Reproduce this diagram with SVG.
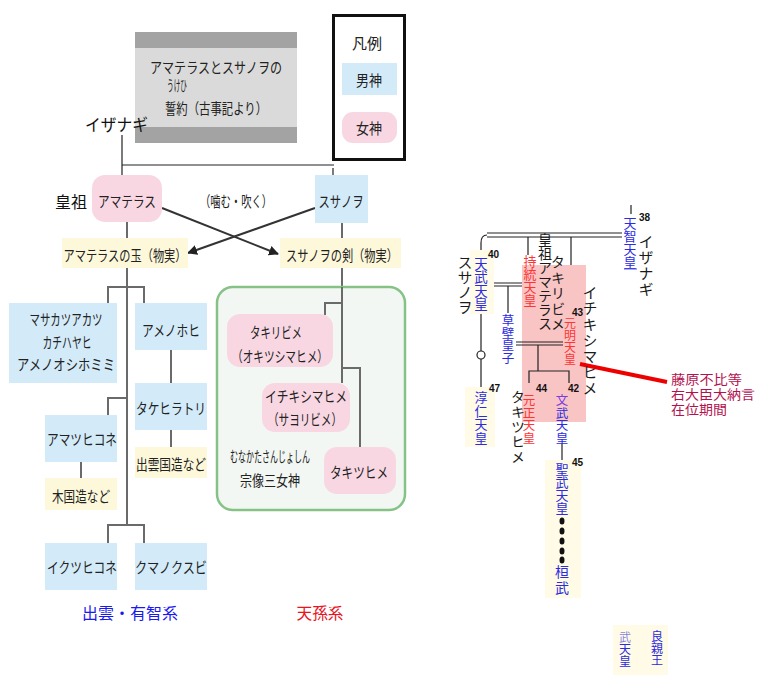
<svg xmlns="http://www.w3.org/2000/svg" width="757" height="675" viewBox="0 0 757 675">
<style>
text{font-family:"Noto Sans CJK JP","Noto Sans",sans-serif;}
.t{fill:#222;font-size:15px;text-anchor:middle;}
.ser{font-family:"Noto Sans CJK JP",serif;fill:#111;}
.blue{fill:#d3eaf8;}
.pink{fill:#f8d7e3;}
.cream{fill:#fdf8da;}
.ln{stroke:#6a6a6a;stroke-width:2;fill:none;}
.th{stroke:#222;stroke-width:1.2;fill:none;}
.arr{stroke:#333;stroke-width:2;fill:none;marker-end:url(#ah);}
.v{writing-mode:vertical-rl;text-orientation:upright;}
.k{fill:#1a1a1a;}
.b{fill:#2b2be0;}
.r{fill:#ff3535;}
.n{font-family:"Liberation Sans",Arial,sans-serif;font-weight:bold;font-size:10px;fill:#111;}
.bg{fill:#fffbe6;}
.fj{font-size:13px;fill:#b3124f;}
</style>
<defs>
<marker id="ah" viewBox="0 0 10 10" refX="9" refY="5" markerWidth="10" markerHeight="10" markerUnits="userSpaceOnUse" orient="auto">
<path d="M0,0 L10,5 L0,10 z" fill="#222"/>
</marker>
</defs>
<rect width="757" height="675" fill="#fff"/>

<g id="title">
<rect x="135" y="32" width="162" height="111" fill="#dadada"/>
<rect x="135" y="32" width="162" height="16" fill="#a3a3a3"/>
<rect x="135" y="127" width="162" height="16" fill="#a3a3a3"/>
<text class="t" x="216" y="73" font-size="15" textLength="132" lengthAdjust="spacingAndGlyphs">アマテラスとスサノヲの</text>
<text class="t" x="177" y="91" font-size="6.5" textLength="20" lengthAdjust="spacingAndGlyphs">うけひ</text>
<text class="t" x="216" y="114" font-size="16" textLength="102" lengthAdjust="spacingAndGlyphs">誓約（古事記より）</text>
</g>

<g id="legend">
<rect x="333.5" y="15.5" width="71" height="144" fill="#fff" stroke="#111" stroke-width="3"/>
<text class="t" x="367" y="49" font-size="13">凡例</text>
<rect class="blue" x="342" y="63" width="55" height="32"/>
<text class="t" x="369" y="86" font-size="15" textLength="26" lengthAdjust="spacingAndGlyphs">男神</text>
<rect class="pink" x="342" y="112" width="55" height="31" rx="11"/>
<text class="t" x="369" y="134" font-size="15" textLength="26" lengthAdjust="spacingAndGlyphs">女神</text>
</g>

<g id="connectors">
<path class="th" d="M122,135 V176"/>
<path class="th" d="M122,165 H334"/>
<path class="th" d="M333,168 V175"/>
<path class="ln" d="M127,222 V238 M127,268 V525"/>
<path class="ln" d="M108,303 V287 H144 V303"/>
<path class="ln" d="M108,415 V398 H127"/>
<path class="ln" d="M108,543 V525 H144 V543"/>
<path class="ln" d="M171,350 V383 M171,430 V447 M81,462 V478"/>
<path class="ln" d="M342,222 V238 M342,268 V287"/>
<path class="arr" d="M162,208 L278,254"/>
<path class="arr" d="M315,208 L188,253"/>
<path class="th" d="M487,233 H622 M487,237 H622"/>
<path class="th" d="M487,235 Q481,235 481,243 V256"/>
<path class="th" d="M631,205 V214"/>
<path class="th" d="M528,237 V255 M571,237 V312"/>
<path class="th" d="M490,283 H522 M490,286 H522 M508,286 V313"/>
<path class="th" d="M481,310 V351 M481,359 V387"/>
<circle cx="481" cy="355" r="4" fill="#fff" stroke="#222" stroke-width="1.2"/>
<path class="th" d="M562,443 V462"/>
</g>

<g id="izanagi"><text class="ser" x="85" y="131" font-size="17" textLength="63" lengthAdjust="spacingAndGlyphs">イザナギ</text></g>
<g id="amaterasu">
<text class="ser" x="55" y="208" font-size="16" textLength="32" lengthAdjust="spacingAndGlyphs">皇祖</text>
<rect class="pink" x="92" y="175" width="70" height="47" rx="13"/>
<text class="t" x="127" y="207" textLength="58" lengthAdjust="spacingAndGlyphs">アマテラス</text>
</g>
<g id="kamu"><text class="t" x="236" y="207" font-size="14" textLength="72" lengthAdjust="spacingAndGlyphs">（噛む・吹く）</text></g>
<g id="susanoo">
<rect class="blue" x="315" y="175" width="53" height="48"/>
<text class="t" x="341" y="207" textLength="45" lengthAdjust="spacingAndGlyphs">スサノヲ</text>
</g>
<g id="tama">
<rect class="cream" x="62" y="238" width="126" height="30"/>
<text class="t" x="125" y="261" textLength="123" lengthAdjust="spacingAndGlyphs">アマテラスの玉（物実）</text>
</g>
<g id="tsurugi">
<rect class="cream" x="280" y="238" width="121" height="30"/>
<text class="t" x="342" y="261" textLength="112" lengthAdjust="spacingAndGlyphs">スサノヲの剣（物実）</text>
</g>
<g id="masakatsu">
<rect class="blue" x="9" y="303" width="108" height="80"/>
<text class="t" x="66" y="325" textLength="73" lengthAdjust="spacingAndGlyphs">マサカツアカツ</text>
<text class="t" x="67" y="348" textLength="49" lengthAdjust="spacingAndGlyphs">カチハヤヒ</text>
<text class="t" x="66" y="370" textLength="98" lengthAdjust="spacingAndGlyphs">アメノオシホミミ</text>
</g>
<g id="amenohohi">
<rect class="blue" x="135" y="303" width="72" height="47"/>
<text class="t" x="171" y="336" textLength="58" lengthAdjust="spacingAndGlyphs">アメノホヒ</text>
</g>
<g id="takehiratori">
<rect class="blue" x="135" y="383" width="72" height="47"/>
<text class="t" x="171" y="414" textLength="70" lengthAdjust="spacingAndGlyphs">タケヒラトリ</text>
</g>
<g id="izumo-kokuzo">
<rect class="cream" x="135" y="447" width="72" height="31"/>
<text class="t" x="171" y="470" textLength="70" lengthAdjust="spacingAndGlyphs">出雲国造など</text>
</g>
<g id="amatsuhikone">
<rect class="blue" x="45" y="415" width="72" height="47"/>
<text class="t" x="82" y="445" textLength="70" lengthAdjust="spacingAndGlyphs">アマツヒコネ</text>
</g>
<g id="ki-kokuzo">
<rect class="cream" x="45" y="478" width="72" height="32"/>
<text class="t" x="81" y="502" textLength="58" lengthAdjust="spacingAndGlyphs">木国造など</text>
</g>
<g id="ikutsuhikone">
<rect class="blue" x="45" y="543" width="72" height="47"/>
<text class="t" x="82" y="573" textLength="70" lengthAdjust="spacingAndGlyphs">イクツヒコネ</text>
</g>
<g id="kumanokusubi">
<rect class="blue" x="135" y="543" width="72" height="47"/>
<text class="t" x="171" y="573" textLength="72" lengthAdjust="spacingAndGlyphs">クマノクスビ</text>
</g>
<g id="izumo-kei"><text x="130" y="619" font-size="16" fill="#1a1aee" text-anchor="middle" textLength="96" lengthAdjust="spacingAndGlyphs">出雲・有智系</text></g>
<g id="tenson-kei"><text x="320" y="619" font-size="16" fill="#e8141e" text-anchor="middle" textLength="47" lengthAdjust="spacingAndGlyphs">天孫系</text></g>

<g id="munakata">
<rect x="217" y="287" width="188" height="223" rx="16" fill="#f3f7f3" stroke="#86c286" stroke-width="2.5"/>
<path class="ln" d="M342,287 V383 M325,315 V303 H342 M342,368 H360 V447"/>
<text class="t" x="270" y="462" font-size="8" textLength="80" lengthAdjust="spacingAndGlyphs">むなかたさんじょしん</text>
<text class="t" x="270" y="486" font-size="17" textLength="60" lengthAdjust="spacingAndGlyphs">宗像三女神</text>
</g>
<g id="takiribime">
<rect class="pink" x="227" y="314" width="106" height="53" rx="13"/>
<text class="t" x="276" y="338" textLength="52" lengthAdjust="spacingAndGlyphs">タキリビメ</text>
<text class="t" x="280" y="362" textLength="96" lengthAdjust="spacingAndGlyphs">（オキツシマヒメ）</text>
</g>
<g id="ichikishimahime">
<rect class="pink" x="262" y="383" width="88" height="49" rx="13"/>
<text class="t" x="306" y="402" textLength="82" lengthAdjust="spacingAndGlyphs">イチキシマヒメ</text>
<text class="t" x="305" y="425" textLength="74" lengthAdjust="spacingAndGlyphs">（サヨリビメ）</text>
</g>
<g id="takitsuhime">
<rect class="pink" x="324" y="447" width="72" height="47" rx="13"/>
<text class="t" x="359" y="478" textLength="58" lengthAdjust="spacingAndGlyphs">タキツヒメ</text>
</g>

<g id="right-bg">
<rect class="bg" x="470" y="250" width="24" height="64"/>
<rect class="bg" x="465" y="387" width="30" height="60"/>
<rect class="bg" x="545" y="460" width="36" height="138"/>
<rect class="bg" x="613" y="625" width="55" height="50"/>
<rect x="522" y="265" width="64" height="157" fill="#f9c4c4"/>
</g>
<g id="connectors-right">
<path class="th" d="M516,342 H563 M516,345 H563"/>
<path class="th" d="M538,345 V371 M529,383 V371 H569 V383"/>
<path d="M580,364 L667,382" stroke="#ee0000" stroke-width="4" fill="none"/>
<g fill="#111">
<ellipse cx="562" cy="521" rx="2.5" ry="3.5"/>
<ellipse cx="562" cy="531" rx="2.5" ry="3.5"/>
<ellipse cx="562" cy="541" rx="2.5" ry="3.5"/>
<ellipse cx="562" cy="551" rx="2.5" ry="3.5"/>
<ellipse cx="562" cy="560" rx="2.5" ry="3.5"/>
</g>
</g>

<g id="r-susanoo"><text class="v k" x="465" y="255" font-size="15">スサノヲ</text></g>
<g id="tenmu"><text class="v b" x="481" y="257" font-size="13.5">天武天皇</text><text class="n" x="488" y="258">40</text></g>
<g id="jito"><text class="v r" x="530" y="255" font-size="13">持統天皇</text></g>
<g id="r-amaterasu"><text class="v k" x="545" y="233" font-size="14">皇祖アマテラス</text></g>
<g id="r-takiribime"><text class="v k" x="558" y="255" font-size="14" letter-spacing="1.4">タキリビメ</text></g>
<g id="r-ichikishimahime"><text class="v k" x="590" y="285" font-size="15" letter-spacing="1">イチキシマヒメ</text></g>
<g id="genmei"><text class="v r" x="570" y="317" font-size="12">元明天皇</text><text class="n" x="572" y="316">43</text></g>
<g id="kusakabe"><text class="v b" x="508" y="314" font-size="12.5">草壁皇子</text></g>
<g id="gensho"><text class="v r" x="529" y="394" font-size="12.5">元正天皇</text><text class="n" x="536" y="392">44</text></g>
<g id="monmu"><text class="v b" x="562" y="394" font-size="12.5"><tspan fill="#7a3ee0">文</tspan>武天皇</text><text class="n" x="568" y="392">42</text></g>
<g id="r-takitsuhime"><text class="v k" x="518" y="390" font-size="14" letter-spacing="1">タキツヒメ</text></g>
<g id="shomu"><text class="v b" x="562" y="463" font-size="13">聖武天皇</text><text class="n" x="572" y="466">45</text></g>
<g id="kanmu"><text class="v b" x="562" y="565" font-size="14" letter-spacing="2">桓武</text></g>
<g id="tenji"><text class="v b" x="630" y="217" font-size="13">天智天皇</text><path d="M624,269 H637" stroke="#5a5ae8" stroke-width="1"/><text class="n" x="639" y="221">38</text></g>
<g id="r-izanagi"><text class="v k" x="646" y="234" font-size="15" letter-spacing="1">イザナギ</text></g>
<g id="junnin"><text class="v b" x="481" y="391" font-size="13" letter-spacing="0.5">淳仁天皇</text><text class="n" x="489" y="392">47</text></g>
<g id="fujiwara">
<text class="fj" x="671" y="384" textLength="71" lengthAdjust="spacingAndGlyphs">藤原不比等</text>
<text class="fj" x="671" y="399" textLength="84" lengthAdjust="spacingAndGlyphs">右大臣大納言</text>
<text class="fj" x="671" y="414" textLength="56" lengthAdjust="spacingAndGlyphs">在位期間</text>
</g>
<g id="bottom-a"><text class="v b" x="625" y="631" font-size="12"><tspan fill-opacity="0.6">武</tspan>天皇</text></g>
<g id="bottom-b"><text class="v b" x="657" y="630" font-size="12">良親王</text></g>
</svg>
